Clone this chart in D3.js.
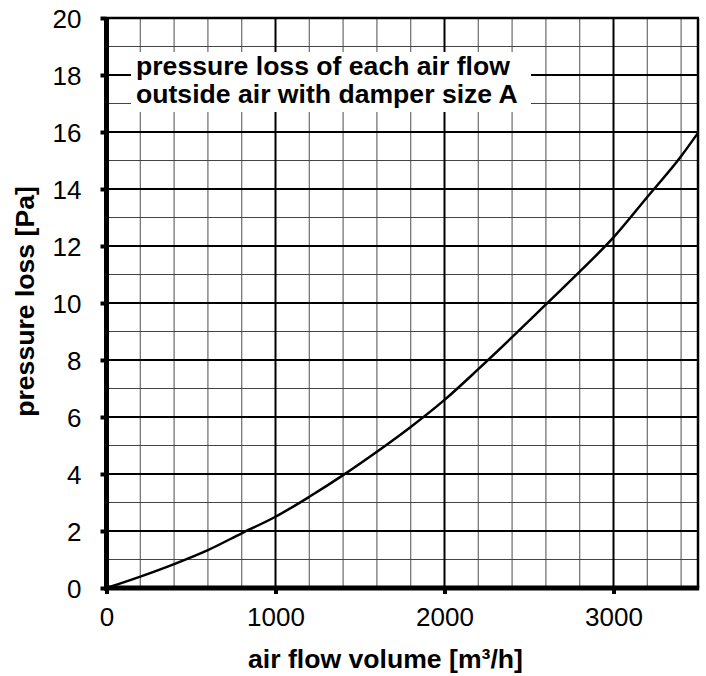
<!DOCTYPE html>
<meta charset="utf-8">
<script src="https://d3js.org/d3.v7.min.js"></script>
<style>
body { margin: 0; background: #fff; }
text { font-family: "Liberation Sans", Arial, sans-serif; }
</style>
<div id="chart"></div>
<script>

// readings taken off the curve
const flowValues     = [0, 200, 400, 600, 800, 1000, 1200, 1400, 1600, 1800, 2000, 2200, 2400, 2600, 2800, 3000, 3200, 3400, 3500];
const pressureValues = [0, 0.40, 0.84, 1.33, 1.92, 2.5, 3.2, 3.96, 4.78, 5.65, 6.6, 7.68, 8.8, 9.95, 11.1, 12.3, 13.72, 15.15, 15.97];

const xTicks = [0, 1000, 2000, 3000];
const yTicks = [0, 2, 4, 6, 8, 10, 12, 14, 16, 18, 20];
const xMinor = d3.range(200, 3500, 200);
const yMinor = d3.range(1, 20, 1);

const titleLines = ["pressure loss of each air flow", "outside air with damper size A"];

const W = 706, H = 676;
const margin = {top: 18, right: 8, bottom: 88, left: 106.5};
const width = W - margin.left - margin.right,
      height = H - margin.top - margin.bottom;

const svg = d3.select("#chart")
  .append("svg")
    .attr("width", W)
    .attr("height", H);

const g = svg.append("g")
    .attr("transform", `translate(${margin.left},${margin.top})`);

const x = d3.scaleLinear().domain([0, 3500]).range([0, width]);
const y = d3.scaleLinear().domain([0, 20]).range([height, 0]);

// minor grid
g.append("g").selectAll("line")
  .data(xMinor.filter(d => d % 1000 !== 0))
  .join("line")
    .attr("x1", d => x(d)).attr("x2", d => x(d))
    .attr("y1", 0).attr("y2", height)
    .attr("stroke", "#6b6b6b").attr("stroke-width", 1.2);

g.append("g").selectAll("line")
  .data(yMinor.filter(d => d % 2 !== 0))
  .join("line")
    .attr("x1", 0).attr("x2", width)
    .attr("y1", d => y(d)).attr("y2", d => y(d))
    .attr("stroke", "#444").attr("stroke-width", 1.2);

// major grid
g.append("g").selectAll("line")
  .data(xTicks.slice(1))
  .join("line")
    .attr("x1", d => x(d)).attr("x2", d => x(d))
    .attr("y1", 0).attr("y2", height)
    .attr("stroke", "#000").attr("stroke-width", 2);

g.append("g").selectAll("line")
  .data(yTicks.slice(1, -1))
  .join("line")
    .attr("x1", 0).attr("x2", width)
    .attr("y1", d => y(d)).attr("y2", d => y(d))
    .attr("stroke", "#000").attr("stroke-width", 2);

// title box
const box = g.append("g").attr("transform", "translate(24.5,34)");
box.append("rect")
    .attr("width", 400).attr("height", 60)
    .attr("fill", "#fff");
box.selectAll("text")
  .data(titleLines)
  .join("text")
    .attr("x", 5)
    .attr("y", (d, i) => 23 + i * 28)
    .attr("font-size", 26.6)
    .attr("font-weight", "bold")
    .text(d => d);

// curve
const pts = flowValues.map((v, i) => [v, pressureValues[i]]);
g.append("path")
  .datum(pts)
  .attr("fill", "none")
  .attr("stroke", "#000")
  .attr("stroke-width", 2.5)
  .attr("d", d3.line()
    .x(d => x(d[0]))
    .y(d => y(d[1]))
    .curve(d3.curveMonotoneX));

// top / right border
g.append("line")
    .attr("x1", 0).attr("x2", width + 1)
    .attr("y1", 0).attr("y2", 0)
    .attr("stroke", "#000").attr("stroke-width", 2.5);
g.append("line")
    .attr("x1", width).attr("x2", width)
    .attr("y1", 0).attr("y2", height)
    .attr("stroke", "#000").attr("stroke-width", 2.5);

// axes
const xAxis = g.append("g")
  .attr("transform", `translate(0,${height})`)
  .call(d3.axisBottom(x).tickValues(xTicks).tickFormat(d3.format("d"))
    .tickSize(6).tickSizeOuter(0).tickPadding(14));
const yAxis = g.append("g")
  .call(d3.axisLeft(y).tickValues(yTicks).tickFormat(d3.format("d"))
    .tickSize(6).tickSizeOuter(0).tickPadding(19));

[xAxis, yAxis].forEach(a => {
  a.select(".domain").attr("stroke", "#000").attr("stroke-width", 5);
  a.selectAll(".tick line").attr("stroke", "#000").attr("stroke-width", 4);
  a.selectAll(".tick text")
    .attr("font-size", 26)
    .attr("font-family", "Liberation Sans, Arial, sans-serif")
    .attr("fill", "#000");
});
xAxis.select(".domain").attr("d", `M-2.5,0H${width + 1.2}`);
yAxis.select(".domain").attr("d", `M0,${height + 2.5}V-1`);
yAxis.selectAll(".tick text").attr("dy", "0.36em");

// axis titles
svg.append("text")
  .attr("x", 385.5)
  .attr("y", 668)
  .attr("text-anchor", "middle")
  .attr("font-size", 26.6)
  .attr("font-weight", "bold")
  .text("air flow volume [m³/h]");

svg.append("text")
  .attr("transform", "translate(34,301.5) rotate(-90)")
  .attr("text-anchor", "middle")
  .attr("font-size", 26.6)
  .attr("font-weight", "bold")
  .text("pressure loss [Pa]");

</script>
